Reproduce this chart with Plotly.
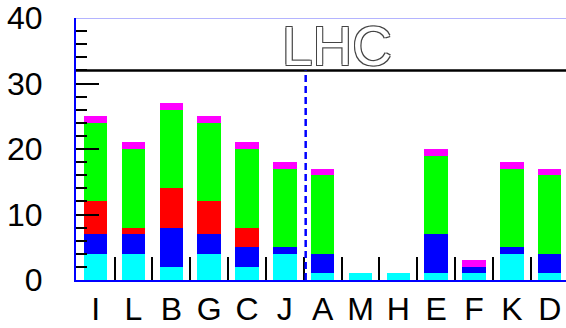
import plotly.graph_objects as go

categories = ["I", "L", "B", "G", "C", "J", "A", "M", "H", "E", "F", "K", "D"]
cyan_vals = [4, 4, 2, 4, 2, 4, 1, 1, 1, 1, 1, 4, 1]
blue_vals = [3, 3, 6, 3, 3, 1, 3, 0, 0, 6, 1, 1, 3]
red_vals = [5, 1, 6, 5, 3, 0, 0, 0, 0, 0, 0, 0, 0]
green_vals = [12, 12, 12, 12, 12, 12, 12, 0, 0, 12, 0, 12, 12]
magenta_vals = [1, 1, 1, 1, 1, 1, 1, 0, 0, 1, 1, 1, 1]
y_ticks = [0, 10, 20, 30, 40]
limit_value = 32
limit_label = "LHC"
divider_pos = 5.55

xpos = list(range(len(categories)))
series = [
    (cyan_vals, "#00ffff"),
    (blue_vals, "#0000ff"),
    (red_vals, "#ff0000"),
    (green_vals, "#00ff00"),
    (magenta_vals, "#ff00ff"),
]

fig = go.Figure()
for vals, col in series:
    fig.add_trace(go.Bar(x=xpos, y=vals, marker=dict(color=col, line=dict(width=0)),
                         width=0.62, showlegend=False))

FONT = "Liberation Sans, Arial, sans-serif"

fig.update_layout(
    barmode="stack",
    width=566, height=328,
    margin=dict(l=76, r=0, t=18, b=48),
    paper_bgcolor="white", plot_bgcolor="white",
    font=dict(family=FONT, size=32, color="black"),
    xaxis=dict(
        range=[-0.52, 12.43], automargin=False,
        tickmode="array", tickvals=xpos, ticktext=categories,
        ticks="", showgrid=False, zeroline=False,
        showline=True, linecolor="#0000ff", linewidth=2,
        tickfont=dict(size=32), ticklabelstandoff=0, ticklabeloverflow="allow",
        minor=dict(tickmode="array", tickvals=[i + 0.5 for i in range(len(categories) - 1)],
                   ticks="inside", ticklen=23, tickwidth=2, tickcolor="black", showgrid=False),
    ),
    yaxis=dict(
        range=[0, 40], automargin=False,
        tickmode="array", tickvals=y_ticks,
        ticks="inside", ticklen=23, tickwidth=2, tickcolor="black",
        showgrid=False, zeroline=False,
        showline=True, linecolor="#0000ff", linewidth=2,
        ticklabelstandoff=25, ticklabeloverflow="allow",
        tickfont=dict(size=32),
        minor=dict(dtick=2, tick0=0, ticks="inside", ticklen=11, tickwidth=2,
                   tickcolor="black", showgrid=False),
    ),
)

# top frame line
fig.add_shape(type="line", xref="paper", yref="y", x0=0, x1=1, y0=40, y1=40,
              line=dict(color="#6b6bff", width=1))
# limit line
fig.add_shape(type="line", xref="paper", yref="y", x0=0, x1=1, y0=limit_value, y1=limit_value,
              line=dict(color="black", width=2.5))
# divider
fig.add_shape(type="line", xref="x", yref="y", x0=divider_pos, x1=divider_pos, y0=0, y1=limit_value,
              line=dict(color="#0000ff", width=2.5, dash="7px,4px"))

fig.add_annotation(
    x=0.533, xref="paper", y=limit_value, yref="y",
    text=limit_label, showarrow=False, xanchor="center", yanchor="bottom", yshift=-9,
    font=dict(family=FONT, size=55, color="white",
              shadow="1px 1px 0 #444, -1px -1px 0 #444, 1px -1px 0 #444, -1px 1px 0 #444"),
)

fig.write_html(
    "out.html",
    config={"displayModeBar": False},
    post_script="document.body.style.margin='0';document.body.style.padding='0';"
                "document.body.style.overflow='hidden';",
)
